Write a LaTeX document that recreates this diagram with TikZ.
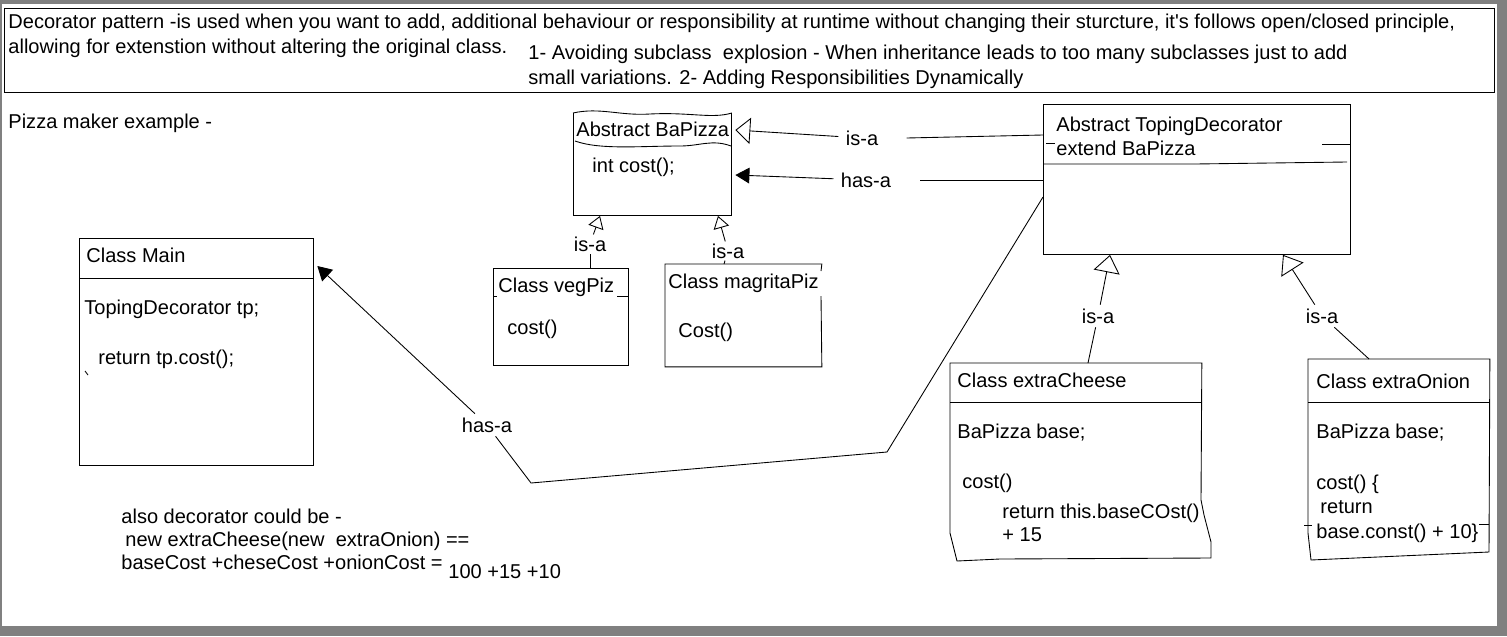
\documentclass[tikz,border=0pt]{standalone}
\usepackage{fontspec}
\setmainfont{Liberation Sans}
\usepackage{tikz}
\usetikzlibrary{positioning,arrows.meta}
\newcommand{\diagfont}{\fontsize{11.4}{14}\selectfont}

\begin{document}
\begin{tikzpicture}[x=0.02cm,y=-0.02cm,line width=0.5pt]

  \tikzstyle{classbox}=[draw,anchor=north west,inner sep=0pt]
  \tikzstyle{txt}=[anchor=base west,inner sep=0pt,font=\diagfont]
  \tikzstyle{lbl}=[inner sep=2pt,font=\diagfont]
  \tikzstyle{isa}=[-{Triangle[open,length=8.5pt,width=15pt]}]
  \tikzstyle{isasmall}=[-{Triangle[open,length=7pt,width=9pt]}]
  \tikzstyle{isabig}=[-{Triangle[open,length=10pt,width=15pt]}]
  \tikzstyle{hasa}=[-{Triangle[length=8pt,width=9pt]}]

  % frame
  \useasboundingbox (0,0) rectangle (1507,636);
  \fill[black!50] (0,0) rectangle (1507,636);
  \fill[white] (2,4) rectangle (1497,626);

  % intro box
  \node[classbox,minimum width=29.8cm,minimum height=1.68cm] (intro) at (4,8) {};
  \node[txt] (intro1) at (8,28) {Decorator pattern -is used when you want to add, additional behaviour or responsibility at runtime without changing their sturcture, it\textquotesingle s follows open/closed principle,};
  \node[txt] (intro2) at (8,53) {allowing for extenstion without altering the original class.};
  \node[txt] (why1) at (528,59) {1- Avoiding subclass\ \ explosion - When inheritance leads to too many subclasses just to add};
  \node[txt] (why2) at (528,84) {small variations. 2- Adding Responsibilities Dynamically};

  \node[txt] (title) at (8,128) {Pizza maker example -};

  % Abstract BaPizza
  \node[anchor=north west,inner sep=0pt,minimum width=3.16cm,minimum height=2.04cm] (bapizza) at (573,113) {};
  \draw (bapizza.north west) .. controls (600,107) and (620,116) .. (650,114)
        .. controls (690,112) and (712,119) .. (bapizza.north east);
  \draw (bapizza.north west) -- (bapizza.south west) -- (bapizza.south east) -- (bapizza.north east);
  \draw (575,141) .. controls (600,150) and (640,146) .. (680,146)
        .. controls (700,146) and (712,139) .. (731,146);
  \node[txt] (bapizzaname) at (576,136) {Abstract BaPizza};
  \node[txt] (bapizzacost) at (592,172) {int cost();};

  % Abstract TopingDecorator
  \node[classbox,minimum width=6.14cm,minimum height=3cm] (deco) at (1043,104) {};
  \draw (deco.west |- 0,164) -- (1195,164) -- (1347,162);
  \draw (1322,144) -- (deco.east |- 0,144);
  \draw (1046,143) -- (1055,143);
  \node[txt] (deconame) at (1056,131) {Abstract TopingDecorator};
  \node[txt] (decoext) at (1056,155) {extend BaPizza};

  % Class vegPiz
  \node[classbox,minimum width=2.7cm,minimum height=1.94cm] (veg) at (493,268) {};
  \draw (veg.west |- 0,296) -- (497,296);
  \draw (617,296) -- (veg.east |- 0,296);
  \node[txt] (vegname) at (498,292) {Class vegPiz};
  \node[txt] (vegcost) at (507,334) {cost()};

  % Class magritaPiz
  \node[anchor=north west,inner sep=0pt,minimum width=3.12cm,minimum height=2.04cm] (magrita) at (665,264) {};
  \draw (821,271) -- (magrita.north east) -- (magrita.north west) -- (magrita.south west)
        -- (magrita.south east) -- (821,296);
  \node[txt] (magritaname) at (668,288) {Class magritaPiz};
  \node[txt] (magritacost) at (678,337) {Cost()};

  % Class Main
  \node[classbox,minimum width=4.68cm,minimum height=4.54cm] (main) at (79,238) {};
  \draw (main.west |- 0,278) -- (main.east |- 0,278);
  \draw (85,371) -- (88,375);
  \node[txt] (mainname) at (86,262) {Class Main};
  \node[txt] (maintp) at (84,314) {TopingDecorator tp;};
  \node[txt] (mainret) at (98,364) {return tp.cost();};

  % Class extraCheese
  \node[anchor=north west,inner sep=0pt,minimum width=5.02cm,minimum height=3.9cm] (cheese) at (950,363) {};
  \draw (cheese.north west) -- (950,533) -- (957,561) -- (1000,559) -- (1211,558)
        -- (1211,542) -- (1204,515) -- (1201,500) -- (cheese.north east) -- cycle;
  \draw (cheese.west |- 0,402) -- (cheese.east |- 0,402);
  \node[txt] (cheesename) at (957,387) {Class extraCheese};
  \node[txt] (cheesebase) at (957,438) {BaPizza base;};
  \node[txt] (cheesecost) at (962,488) {cost()};
  \node[txt] (cheeseret) at (1002,518) {return this.baseCOst()};
  \node[txt] (cheeseplus) at (1002,541) {+ 15};

  % Class extraOnion
  \node[anchor=north west,inner sep=0pt,minimum width=3.62cm,minimum height=3.86cm] (onion) at (1308,359) {};
  \draw (onion.north west) -- (1308,533) -- (1311,560) -- (1489,552)
        -- (onion.north east) -- cycle;
  \draw (onion.west |- 0,402) -- (onion.east |- 0,402);
  \draw (1304,525) -- (1312,525);
  \draw (1479,524) -- (1489,524);
  \node[txt] (onionname) at (1316,388) {Class extraOnion};
  \node[txt] (onionbase) at (1316,438) {BaPizza base;};
  \node[txt] (onioncost) at (1316,489) {cost() \{};
  \node[txt] (onionret) at (1320,513) {return};
  \node[txt] (onionsum) at (1316,538) {base.const() + 10\}};

  % note
  \node[txt] (note1) at (121,523) {also decorator could be -};
  \node[txt] (note2) at (125,546) {new extraCheese(new\ \ extraOnion) ==};
  \node[txt] (note3) at (121,569) {baseCost +cheseCost +onionCost =};
  \node[txt] (note4) at (448,578) {100 +15 +10};

  % labels
  \node[lbl,inner xsep=4pt] (isatop) at (862,138) {is-a};
  \node[lbl,inner xsep=4pt] (hasatop) at (866,180) {has-a};
  \node[lbl] (hasamain) at (487,425) {has-a};
  \node[lbl,inner sep=1pt] (isaveg) at (590,244) {is-a};
  \node[lbl,inner sep=1pt] (isamag) at (728,251) {is-a};
  \node[lbl] (isacheese) at (1098,316) {is-a};
  \node[lbl] (isaonion) at (1322,316) {is-a};
  \coordinate (bendright) at (887,452);
  \coordinate (bendleft) at (531,483);

  % connectors
  \draw[isa] (isatop) -- ([xshift=2pt]bapizza.east |- 0,130);
  \draw (deco.west |- 0,135) -- ([xshift=12pt]isatop.east);
  \draw[hasa] (hasatop) -- ([xshift=2pt]bapizza.east |- 0,175);
  \draw (deco.west |- 0,180) -- ([xshift=12pt]hasatop.east);
  \draw[isasmall] (isaveg) -- (bapizza.south -| 600,0);
  \draw (veg.north -| 590,0) -- (isaveg);
  \draw[isasmall] (isamag) -- (bapizza.south -| 718,0);
  \draw (magrita.north -| 724,0) -- (isamag);
  \draw[isabig] (isacheese) -- (deco.south -| 1110,0);
  \draw (cheese.north -| 1088,0) -- (isacheese);
  \draw[isabig] (isaonion) -- (deco.south -| 1283,0);
  \draw (onion.north -| 1369,0) -- (isaonion);
  \draw[hasa] (hasamain) -- ([xshift=2pt]main.east |- 0,266);
  \draw (deco.west |- 0,197) -- (bendright) -- (bendleft) -- (hasamain);

\end{tikzpicture}
\end{document}
